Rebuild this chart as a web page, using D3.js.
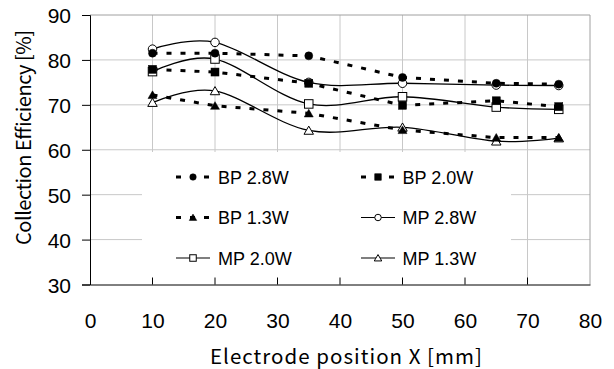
<!DOCTYPE html>
<html>
<head>
<meta charset="utf-8">
<script src="https://cdn.jsdelivr.net/npm/d3@7/dist/d3.min.js"></script>
<style>
  html, body { margin: 0; padding: 0; background: #fff; }
  svg { display: block; }
</style>
</head>
<body>
<svg id="chart" width="614" height="369"></svg>
<script>
// Electrode positions (mm)
const positions = [10, 20, 35, 50, 65, 75];

// Collection efficiency (%) per series
const bp28 = [81.5, 81.5, 80.9, 76.1, 74.8, 74.6];
const bp20 = [77.9, 77.3, 74.8, 69.9, 70.9, 69.6];
const bp13 = [72.2, 69.8, 68.1, 64.4, 62.7, 62.7];
const mp28 = [82.4, 83.9, 75.0, 74.8, 74.4, 74.3];
const mp20 = [77.4, 80.2, 70.2, 71.8, 69.5, 69.0];
const mp13 = [70.5, 73.1, 64.3, 65.0, 61.9, 62.6];

const seriesNames = ["BP 2.8W", "BP 2.0W", "BP 1.3W", "MP 2.8W", "MP 2.0W", "MP 1.3W"];
const xTicks = [0, 10, 20, 30, 40, 50, 60, 70, 80];
const yTicks = [30, 40, 50, 60, 70, 80, 90];
const xTitle = "Electrode position X [mm]";
const yTitle = "Collection Efficiency [%]";

const series = [
  { name: seriesNames[0], values: bp28, shape: "circle",   filled: true,  dashed: true },
  { name: seriesNames[1], values: bp20, shape: "square",   filled: true,  dashed: true },
  { name: seriesNames[2], values: bp13, shape: "triangle", filled: true,  dashed: true },
  { name: seriesNames[3], values: mp28, shape: "circle",   filled: false, dashed: false },
  { name: seriesNames[4], values: mp20, shape: "square",   filled: false, dashed: false },
  { name: seriesNames[5], values: mp13, shape: "triangle", filled: false, dashed: false }
];

const L = 90, R = 590, T = 15, B = 284.5;
const svg = d3.select("#chart");
const x = d3.scaleLinear().domain([0, 80]).range([L, R]);
const y = d3.scaleLinear().domain([30, 90]).range([B, T]);

const numFont = "'Liberation Sans', Arial, sans-serif";
const titleFont = "'Noto Sans CJK JP', 'Noto Sans', sans-serif";

// Gridlines
const grid = svg.append("g").attr("stroke", "#c8c8c8").attr("stroke-width", 1);
xTicks.filter(t => t > 0 && t < 80).forEach(t => {
  grid.append("line").attr("x1", x(t)).attr("x2", x(t)).attr("y1", T).attr("y2", B);
});
yTicks.filter(t => t > 30 && t < 90).forEach(t => {
  grid.append("line").attr("x1", L).attr("x2", R).attr("y1", y(t)).attr("y2", y(t));
});
// Plot frame top/right
svg.append("path")
  .attr("d", `M${L},${T}H${R}V${B}`)
  .attr("fill", "none").attr("stroke", "#a0a0a0").attr("stroke-width", 1);

// Marker symbol helper
function marker(g, shape, filled, size, cx, cy) {
  const fill = filled ? "#000" : "#fff";
  let el;
  if (shape === "circle") {
    el = g.append("circle").attr("cx", cx).attr("cy", cy).attr("r", size / 2);
  } else if (shape === "square") {
    el = g.append("rect").attr("x", cx - size / 2).attr("y", cy - size / 2)
      .attr("width", size).attr("height", size);
  } else {
    const h = size * 0.9;
    el = g.append("path")
      .attr("d", `M${cx},${cy - h / 2 - 0.5}L${cx + size / 2 + 0.5},${cy + h / 2}L${cx - size / 2 - 0.5},${cy + h / 2}Z`);
  }
  el.attr("fill", fill).attr("stroke", "#000").attr("stroke-width", filled ? 0.5 : 1);
}

// Series lines and markers: open-marker series first, filled on top
const drawOrder = [3, 4, 5, 0, 1, 2];
const plot = svg.append("g");
drawOrder.forEach(i => {
  const s = series[i];
  const pts = positions.map((p, k) => [p, s.values[k]]);
  const line = d3.line()
    .x(d => x(d[0])).y(d => y(d[1]))
    .curve(s.dashed ? d3.curveLinear : d3.curveCatmullRom.alpha(0));
  const path = plot.append("path").datum(pts)
    .attr("d", line).attr("fill", "none").attr("stroke", "#000");
  if (s.dashed) path.attr("stroke-width", 3).attr("stroke-dasharray", "5,9");
  else path.attr("stroke-width", 1.3);
});
drawOrder.forEach(i => {
  const s = series[i];
  positions.forEach((p, k) => marker(plot, s.shape, s.filled, s.filled ? 8 : 8.5, x(p), y(s.values[k])));
});

// Legend
const lg = svg.append("g");
lg.append("rect").attr("x", 142).attr("y", 152).attr("width", 369).attr("height", B - 152)
  .attr("fill", "#fff");
const rowsY = [177, 217.5, 258];
const colSym = [176, 361];
const colText = [218, 402.5];
series.forEach((s, i) => {
  const col = i % 2, row = Math.floor(i / 2);
  const cy = rowsY[row];
  const x0 = colSym[col], x1 = x0 + 34, cx = (x0 + x1) / 2;
  const ln = lg.append("line").attr("x1", x0).attr("x2", x1).attr("y1", cy).attr("y2", cy)
    .attr("stroke", "#000");
  if (s.dashed) ln.attr("stroke-width", 3).attr("stroke-dasharray", "5,9");
  else ln.attr("stroke-width", 1.2);
  marker(lg, s.shape, s.filled, 6.5, cx, cy);
  lg.append("text").attr("x", colText[col]).attr("y", cy + 6.5)
    .attr("font-family", numFont).attr("font-size", 18).attr("fill", "#000")
    .text(s.name);
});

// Axes
const yAxis = d3.axisLeft(y).tickValues(yTicks).tickSize(8).tickFormat(d3.format("d"));
const yg = svg.append("g").attr("transform", `translate(${L},0)`).call(yAxis);
yg.select(".domain").attr("stroke", "#000");
yg.selectAll(".tick line").attr("stroke", "#000");
yg.selectAll(".tick text").attr("x", -19).attr("dy", "0.36em")
  .attr("font-family", numFont).attr("font-size", 21).attr("fill", "#000");

const xAxis = d3.axisBottom(x).tickValues(xTicks).tickSize(0).tickFormat(d3.format("d"));
const xg = svg.append("g").attr("transform", `translate(0,${B})`).call(xAxis);
xg.select(".domain").attr("stroke", "#000");
xg.selectAll(".tick text").attr("y", 43.5).attr("dy", 0)
  .attr("font-family", numFont).attr("font-size", 21).attr("fill", "#000");
// Inward tick marks on the bottom axis
xTicks.filter(t => t > 0 && t < 80).forEach(t => {
  svg.append("line").attr("x1", x(t)).attr("x2", x(t)).attr("y1", B).attr("y2", B - 7)
    .attr("stroke", "#000");
});

// Axis titles
svg.append("text").attr("x", 346).attr("y", 364).attr("text-anchor", "middle")
  .attr("font-family", titleFont).attr("font-size", 20.5).attr("fill", "#000")
  .attr("textLength", 272).attr("lengthAdjust", "spacing")
  .text(xTitle);
svg.append("text").attr("transform", "translate(30.5,137.5) rotate(-90)")
  .attr("text-anchor", "middle")
  .attr("font-family", titleFont).attr("font-size", 20).attr("fill", "#000")
  .attr("textLength", 215).attr("lengthAdjust", "spacing")
  .text(yTitle);
</script>
</body>
</html>
